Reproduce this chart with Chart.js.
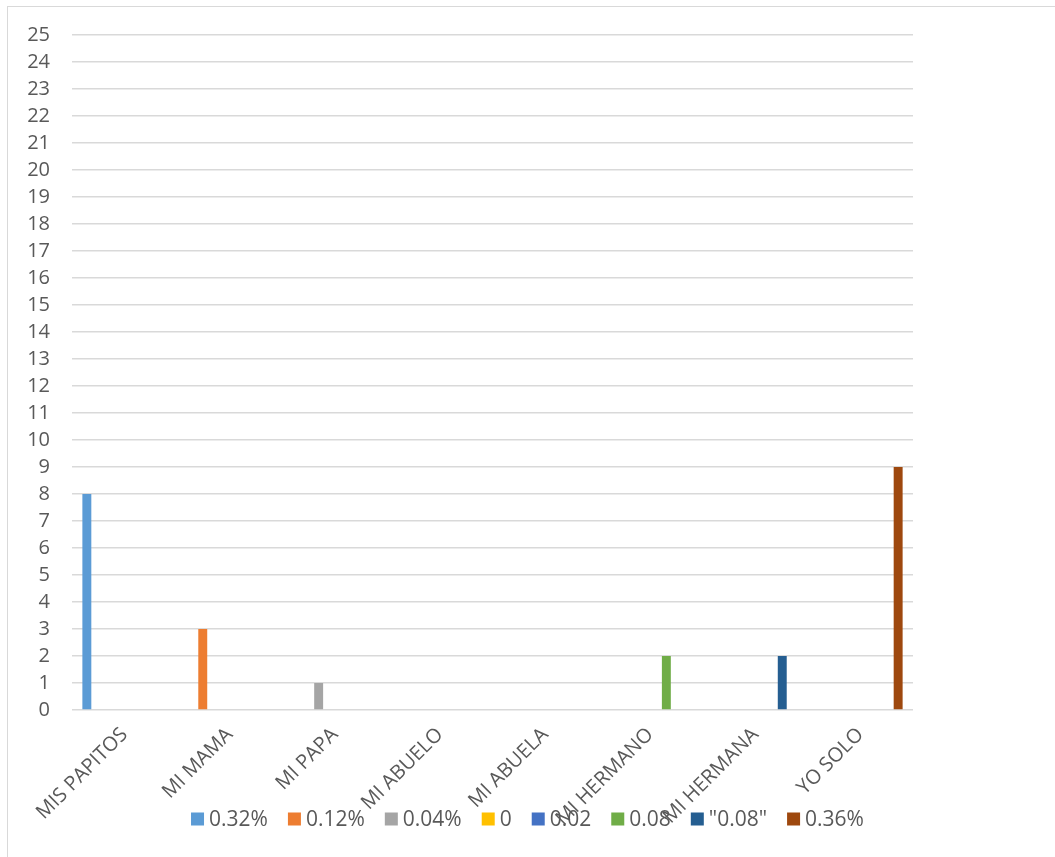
<!DOCTYPE html>
<html>
<head>
<meta charset="utf-8">
<script src="https://cdn.jsdelivr.net/npm/chart.js@4.4.1/dist/chart.umd.min.js"></script>
<style>
  html, body { margin: 0; padding: 0; background: #fff; }
  #wrap { position: relative; width: 1055px; height: 857px; overflow: hidden; }
  #frame { position: absolute; left: 7px; top: 6px; width: 1100px; height: 900px; border: 1.5px solid #d9d9d9; box-sizing: border-box; }
  #c { position: absolute; left: 0; top: 0; }
</style>
</head>
<body>
<div id="wrap">
  <div id="frame"></div>
  <canvas id="c" width="1055" height="857"></canvas>
</div>
<script>
// Categories
const categories = ['MIS PAPITOS', 'MI MAMA', 'MI PAPA', 'MI ABUELO', 'MI ABUELA', 'MI HERMANO', 'MI HERMANA', 'YO SOLO'];

// Series names (legend labels)
const seriesNames = ['0.32%', '0.12%', '0.04%', '0', '0.02', '0.08', '"0.08"', '0.36%'];

// Series values (one per category)
const s032pct = [8, 0, 0, 0, 0, 0, 0, 0];
const s012pct = [0, 3, 0, 0, 0, 0, 0, 0];
const s004pct = [0, 0, 1, 0, 0, 0, 0, 0];
const s0      = [0, 0, 0, 0, 0, 0, 0, 0];
const s002    = [0, 0, 0, 0, 0, 0, 0, 0];
const s008    = [0, 0, 0, 0, 0, 2, 0, 0];
const s008q   = [0, 0, 0, 0, 0, 0, 2, 0];
const s036pct = [0, 0, 0, 0, 0, 0, 0, 9];

// Y-axis range
const yMin = 0;
const yMax = 25;
const yStep = 1;

const seriesValues = [s032pct, s012pct, s004pct, s0, s002, s008, s008q, s036pct];
const seriesColors = ['#5B9BD5', '#ED7D31', '#A5A5A5', '#FFC000', '#4472C4', '#70AD47', '#255E91', '#9E480E'];

const FONT = "'Open Sans', 'DejaVu Sans', sans-serif";
const TEXT = '#595959';

const customLegend = {
  id: 'customLegend',
  afterDraw(chart) {
    const ctx = chart.ctx;
    const size = 21;
    const box = 13;
    const gapText = 5;
    const gapItem = 20;
    ctx.save();
    ctx.font = size + 'px ' + FONT;
    const items = chart.data.datasets.map(ds => ({ label: ds.label, color: ds.backgroundColor, w: ctx.measureText(ds.label).width }));
    let total = 0;
    items.forEach((it, i) => { total += box + gapText + it.w + (i < items.length - 1 ? gapItem : 0); });
    let x = (chart.width - total) / 2;
    const yMid = 819;
    items.forEach(it => {
      ctx.fillStyle = it.color;
      ctx.fillRect(x, yMid - box / 2, box, box);
      x += box + gapText;
      ctx.fillStyle = TEXT;
      ctx.textAlign = 'left';
      ctx.textBaseline = 'middle';
      ctx.fillText(it.label, x, yMid + 1);
      x += it.w + gapItem;
    });
    ctx.restore();
  }
};

new Chart(document.getElementById('c'), {
  type: 'bar',
  data: {
    labels: categories,
    datasets: seriesNames.map((name, i) => ({
      label: name,
      data: seriesValues[i],
      backgroundColor: seriesColors[i],
      borderWidth: 0,
      categoryPercentage: 0.82,
      barPercentage: 0.83
    }))
  },
  options: {
    responsive: false,
    animation: false,
    devicePixelRatio: 1,
    layout: { padding: { left: 0, right: 142, top: 35, bottom: 0 } },
    plugins: {
      legend: { display: false },
      tooltip: { enabled: false }
    },
    scales: {
      x: {
        grid: { display: false, drawTicks: false },
        border: { display: false },
        ticks: {
          color: TEXT,
          font: { family: FONT, size: 20 },
          maxRotation: 45,
          minRotation: 45,
          autoSkip: false,
          padding: 13
        },
        afterFit(scale) { scale.height = 147; }
      },
      y: {
        min: yMin,
        max: yMax,
        grid: { color: '#d9d9d9', lineWidth: 1.5, drawTicks: false },
        border: { display: false },
        ticks: {
          stepSize: yStep,
          color: TEXT,
          font: { family: FONT, size: 20 },
          padding: 22
        },
        afterFit(scale) { scale.width = 72; }
      }
    }
  },
  plugins: [customLegend]
});
</script>
</body>
</html>
